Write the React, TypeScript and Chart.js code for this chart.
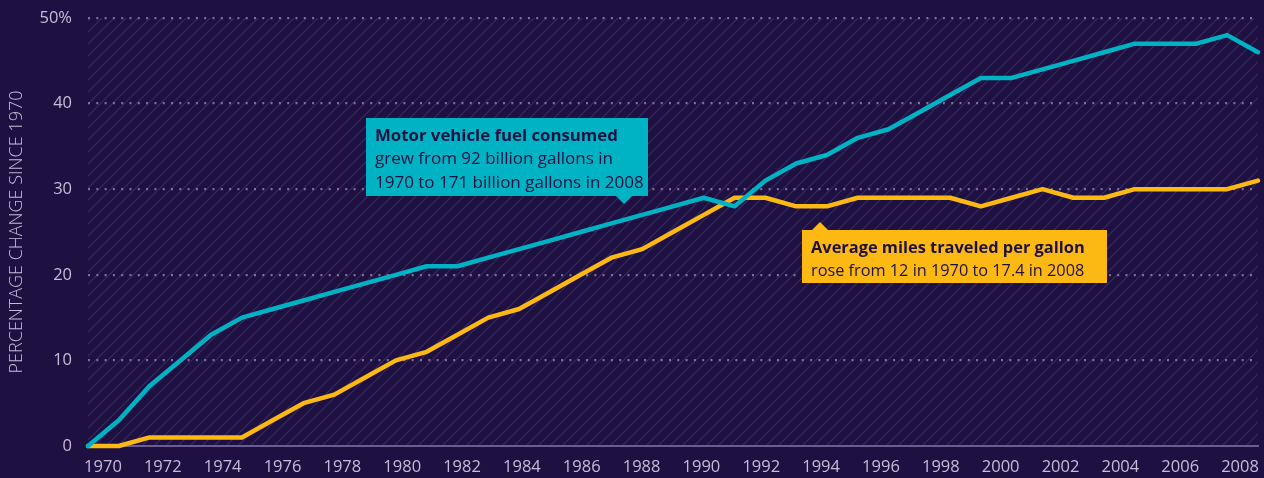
import React, { useEffect, useRef } from "react";
import { Chart, registerables } from "chart.js";

Chart.register(...registerables);

const years = [1970,1971,1972,1973,1974,1975,1976,1977,1978,1979,1980,1981,1982,1983,1984,1985,1986,1987,1988,1989,1990,1991,1992,1993,1994,1995,1996,1997,1998,1999,2000,2001,2002,2003,2004,2005,2006,2007,2008];
const fuelConsumed = [0,3,7,10,13,15,16,17,18,19,20,21,21,22,23,24,25,26,27,28,29,28,31,33,34,36,37,39,41,43,43,44,45,46,47,47,47,48,46];
const milesPerGallon = [0,0,1,1,1,1,3,5,6,8,10,11,13,15,16,18,20,22,23,25,27,29,29,28,28,29,29,29,29,28,29,30,29,29,30,30,30,30,31];
const tickYears = [1970,1972,1974,1976,1978,1980,1982,1984,1986,1988,1990,1992,1994,1996,1998,2000,2002,2004,2006,2008];
const yTicks = [0,10,20,30,40,50];

const BG = "#1e1142";
const CYAN = "#00b3c4";
const YELLOW = "#fdb913";
const TEXT = "#c4bdd8";
const FONT = "'Open Sans', 'Noto Sans', sans-serif";

const hatchPlugin = {
  id: "hatch",
  beforeDraw(chart: any) {
    const { ctx, chartArea } = chart;
    ctx.save();
    ctx.fillStyle = BG;
    ctx.fillRect(0, 0, chart.width, chart.height);
    const tile = document.createElement("canvas");
    tile.width = 12;
    tile.height = 12;
    const t = tile.getContext("2d")!;
    t.strokeStyle = "#392b62";
    t.lineWidth = 1.2;
    t.beginPath();
    t.moveTo(-1, 13); t.lineTo(13, -1);
    t.moveTo(-7, 7); t.lineTo(7, -7);
    t.moveTo(5, 19); t.lineTo(19, 5);
    t.stroke();
    const pat = ctx.createPattern(tile, "repeat");
    ctx.fillStyle = pat;
    ctx.fillRect(chartArea.left, chartArea.top, chartArea.right - chartArea.left, chartArea.bottom - chartArea.top);
    ctx.restore();
  },
};

function drawBox(ctx: any, x: number, y: number, w: number, h: number, color: string, px: number, up: boolean) {
  ctx.fillStyle = color;
  ctx.fillRect(x, y, w, h);
  ctx.beginPath();
  if (up) {
    ctx.moveTo(px - 8, y); ctx.lineTo(px, y - 8); ctx.lineTo(px + 8, y);
  } else {
    ctx.moveTo(px - 8, y + h); ctx.lineTo(px, y + h + 8); ctx.lineTo(px + 8, y + h);
  }
  ctx.closePath();
  ctx.fill();
}

const notesPlugin = {
  id: "notes",
  afterDatasetsDraw(chart: any) {
    const { ctx } = chart;
    ctx.save();
    drawBox(ctx, 366, 118, 282, 78, CYAN, 624, false);
    drawBox(ctx, 802, 230, 305, 53, YELLOW, 820, true);
    ctx.fillStyle = "#1e1142";
    ctx.textBaseline = "alphabetic";
    ctx.textAlign = "left";
    ctx.font = `bold 16.8px ${FONT}`;
    ctx.fillText("Motor vehicle fuel consumed", 375, 141);
    ctx.font = `17px ${FONT}`;
    ctx.fillText("grew from 92 billion gallons in", 375, 164);
    ctx.fillText("1970 to 171 billion gallons in 2008", 375, 188);
    ctx.font = `bold 16.4px ${FONT}`;
    ctx.fillText("Average miles traveled per gallon", 811, 253);
    ctx.font = `16.3px ${FONT}`;
    ctx.fillText("rose from 12 in 1970 to 17.4 in 2008", 811, 276);
    ctx.restore();
  },
};

export default function App() {
  const ref = useRef<HTMLCanvasElement>(null);
  useEffect(() => {
    document.body.style.margin = "0";
    document.body.style.background = BG;
    const chart = new Chart(ref.current!, {
      type: "line",
      data: {
        datasets: [
          {
            label: "Motor vehicle fuel consumed",
            data: years.map((x, i) => ({ x, y: fuelConsumed[i] })),
            borderColor: CYAN,
            borderWidth: 4.5,
            pointRadius: 0,
            borderJoinStyle: "round",
            borderCapStyle: "round",
            clip: false as any,
          },
          {
            label: "Average miles traveled per gallon",
            data: years.map((x, i) => ({ x, y: milesPerGallon[i] })),
            borderColor: YELLOW,
            borderWidth: 4.5,
            pointRadius: 0,
            borderJoinStyle: "round",
            borderCapStyle: "round",
            clip: false as any,
          },
        ],
      },
      options: {
        animation: false,
        responsive: false,
        maintainAspectRatio: false,
        layout: { padding: { left: 0, right: 6, top: 18, bottom: 0 } },
        plugins: { legend: { display: false }, tooltip: { enabled: false } },
        scales: {
          x: { type: "linear", min: 1970, max: 2008, display: false },
          x2: {
            type: "linear",
            position: "bottom",
            min: 1969.5,
            max: 2008.6,
            afterBuildTicks: (axis: any) => {
              axis.ticks = tickYears.map((v) => ({ value: v }));
            },
            afterFit: (axis: any) => {
              axis.height = 32;
              axis.paddingLeft = 0;
              axis.paddingRight = 0;
              axis.paddingTop = 0;
              axis.paddingBottom = 0;
            },
            grid: { display: false, drawTicks: false },
            border: { display: true, color: "#6a5d92", width: 2 },
            ticks: {
              color: TEXT,
              font: { family: FONT, size: 16.5 },
              padding: 11,
              autoSkip: false,
              maxRotation: 0,
              callback: (v: any) => String(v),
            },
          },
          y: {
            min: 0,
            max: 50,
            afterBuildTicks: (axis: any) => {
              axis.ticks = yTicks.map((v) => ({ value: v }));
            },
            afterFit: (axis: any) => {
              axis.width = 88;
              axis.paddingTop = 0;
              axis.paddingBottom = 0;
              axis.paddingLeft = 0;
              axis.paddingRight = 0;
            },
            grid: {
              color: (c: any) => (c.tick && c.tick.value === 0 ? "rgba(0,0,0,0)" : "#7d7396"),
              lineWidth: 2.2,
              drawTicks: false,
            },
            border: { display: false, dash: [2, 6.3] },
            title: {
              display: true,
              text: "PERCENTAGE CHANGE SINCE 1970",
              color: TEXT,
              font: { family: FONT, size: 18, weight: "300" as any },
              padding: { top: 6, bottom: 0 },
            },
            ticks: {
              color: TEXT,
              font: { family: FONT, size: 16.5 },
              padding: 16,
              callback: (v: any) => (v === 50 ? "50%" : String(v)),
            },
          },
        },
      },
      plugins: [hatchPlugin, notesPlugin],
    });
    return () => chart.destroy();
  }, []);
  return (
    <div style={{ width: 1264, height: 478, background: BG }}>
      <canvas ref={ref} width={1264} height={478} style={{ display: "block" }} />
    </div>
  );
}
